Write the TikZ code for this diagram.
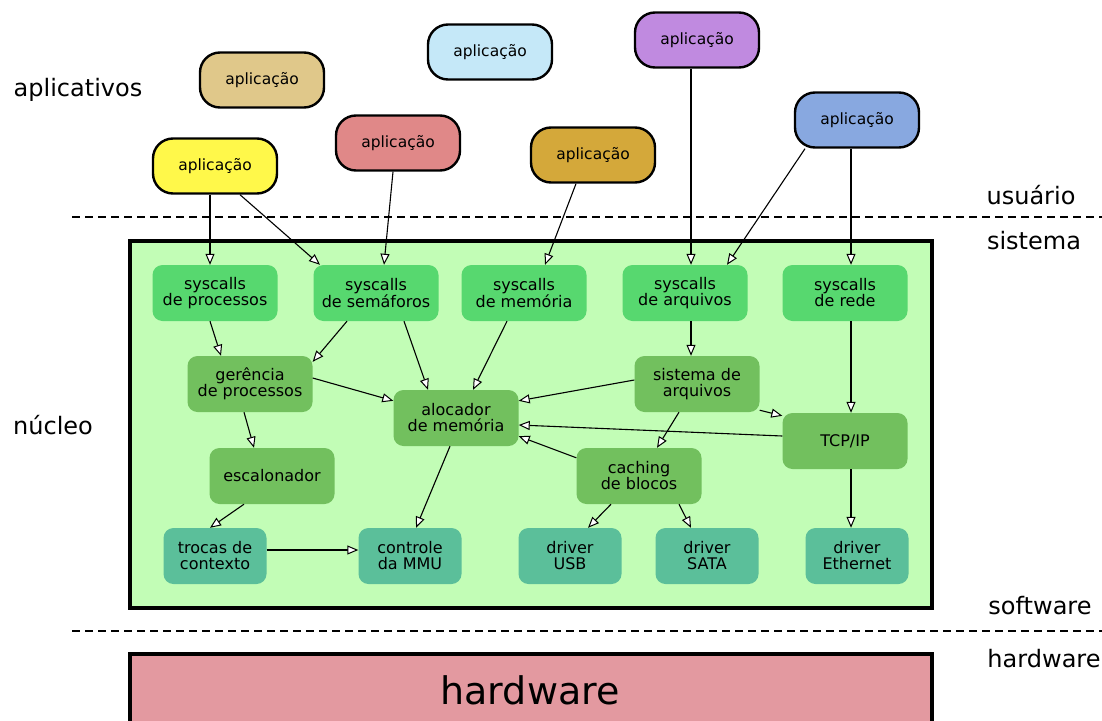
\documentclass[tikz,border=0pt]{standalone}
\usepackage{fontspec}
\setmainfont{DejaVu Sans}
\usetikzlibrary{arrows.meta}

\definecolor{nucleoFundo}{HTML}{C2FDB6}
\definecolor{hwFundo}{HTML}{E399A0}
\definecolor{sysVerde}{HTML}{57D86F}
\definecolor{modVerde}{HTML}{72C05E}
\definecolor{drvVerde}{HTML}{5BBF9A}
\definecolor{appAmarelo}{HTML}{FFF84A}
\definecolor{appBege}{HTML}{E0C88A}
\definecolor{appRosa}{HTML}{E08888}
\definecolor{appCeleste}{HTML}{C5E8F8}
\definecolor{appOuro}{HTML}{D4A83A}
\definecolor{appLilas}{HTML}{C08AE0}
\definecolor{appAzul}{HTML}{88A8E0}

\begin{document}
\begin{tikzpicture}[x=1pt,y=-1pt,
		app/.style={draw=black,line width=2.4pt,rounded corners=20pt,minimum width=124pt,minimum height=55pt,inner sep=0pt,font=\fontsize{15.5}{15.5}\selectfont},
		modulo/.style={rounded corners=10pt,minimum width=125pt,minimum height=56pt,inner sep=0pt,align=center,font=\fontsize{16}{16}\selectfont},
		driver/.style={modulo,fill=drvVerde,minimum width=103pt},
		camada/.style={font=\fontsize{24}{24}\selectfont},
		seta/.style={line width=1.1pt,-{Triangle[length=11pt,width=9pt,fill=white,line width=1pt]}},
		divisa/.style={line width=1.8pt,dash pattern=on 8pt off 5pt}]
	\useasboundingbox (0,0) rectangle (1102,720);

	% camadas
	\node[camada] (aplicativos) at (78,90) {aplicativos};
	\node[camada] (usuario) at (1031,195) {usuário};
	\node[camada] (sistema) at (1034,241) {sistema};
	\node[camada] (nucleo) at (53,425) {núcleo};
	\node[camada] (software) at (1040,606) {software};
	\node[camada] (hwrotulo) at (1044,659) {hardware};
	\draw[divisa] (72,217) -- (1102,217);
	\draw[divisa] (72,631) -- (1102,631);

	% nucleo e hardware
	\draw[line width=4pt,fill=nucleoFundo] (130,241) rectangle (932,608);
	\fill[hwFundo] (130,654) rectangle (932,722);
	\draw[line width=4pt] (130,724) |- (932,654) -- (932,724);
	\node[font=\fontsize{38}{38}\selectfont] (hardware) at (530,690) {hardware};

	% aplicacoes
	\node[app,fill=appAmarelo] (apAmarela) at (215,166) {aplicação};
	\node[app,fill=appBege] (apBege) at (262,80) {aplicação};
	\node[app,fill=appRosa] (apRosa) at (398,143) {aplicação};
	\node[app,fill=appCeleste] (apCeleste) at (490,52) {aplicação};
	\node[app,fill=appOuro] (apOuro) at (593,155) {aplicação};
	\node[app,fill=appLilas] (apLilas) at (697,40) {aplicação};
	\node[app,fill=appAzul] (apAzul) at (857,120) {aplicação};

	% syscalls
	\node[modulo,fill=sysVerde] (scProc) at (215,293) {syscalls\\de processos};
	\node[modulo,fill=sysVerde] (scSem) at (376,293) {syscalls\\de semáforos};
	\node[modulo,fill=sysVerde] (scMem) at (524,293) {syscalls\\de memória};
	\node[modulo,fill=sysVerde] (scArq) at (685,293) {syscalls\\de arquivos};
	\node[modulo,fill=sysVerde] (scRede) at (845,293) {syscalls\\de rede};

	% subsistemas
	\node[modulo,fill=modVerde] (gerencia) at (250,384) {gerência\\de processos};
	\node[modulo,fill=modVerde] (alocador) at (456,418) {alocador\\de memória};
	\node[modulo,fill=modVerde] (sisArq) at (697,384) {sistema de\\arquivos};
	\node[modulo,fill=modVerde] (tcpip) at (845,441) {TCP/IP};
	\node[modulo,fill=modVerde] (escalonador) at (272,476) {escalonador};
	\node[modulo,fill=modVerde] (caching) at (639,476) {caching\\de blocos};

	% drivers
	\node[driver] (trocas) at (215,556) {trocas de\\contexto};
	\node[driver] (mmu) at (410,556) {controle\\da MMU};
	\node[driver] (usb) at (570,556) {driver\\USB};
	\node[driver] (sata) at (707,556) {driver\\SATA};
	\node[driver] (ether) at (857,556) {driver\\Ethernet};

	% chamadas
	\draw[seta] ([xshift=-5pt]apAmarela.south) -- ([xshift=-5pt]scProc.north);
	\draw[seta] ([xshift=25pt]apAmarela.south) -- ([xshift=-56pt]scSem.north);
	\draw[seta] ([xshift=-5pt]apRosa.south) -- ([xshift=8pt]scSem.north);
	\draw[seta] ([xshift=-17pt]apOuro.south) -- ([xshift=21pt]scMem.north);
	\draw[seta] ([xshift=-6pt]apLilas.south) -- ([xshift=6pt]scArq.north);
	\draw[seta] ([xshift=-52pt]apAzul.south) -- ([xshift=42pt]scArq.north);
	\draw[seta] ([xshift=-6pt]apAzul.south) -- ([xshift=6pt]scRede.north);

	% dependencias internas
	\draw[seta] ([xshift=-5pt]scProc.south) -- ([xshift=-29pt]gerencia.north);
	\draw[seta] ([xshift=-29pt]scSem.south) -- ([yshift=-6pt]gerencia.north east);
	\draw[seta] ([xshift=28pt]scSem.south) -- ([xshift=-28pt]alocador.north);
	\draw[seta] ([xshift=-17pt]scMem.south) -- ([xshift=17pt]alocador.north);
	\draw[seta] ([xshift=6pt]scArq.south) -- ([xshift=-6pt]sisArq.north);
	\draw[seta] ([xshift=6pt]scRede.south) -- ([xshift=6pt]tcpip.north);
	\draw[seta] ([yshift=6pt]gerencia.east) -- ([yshift=-11pt]alocador.north west);
	\draw[seta] ([yshift=4pt]sisArq.west) -- ([yshift=-11pt]alocador.north east);
	\draw[seta] ([yshift=2pt]sisArq.south east) -- ([yshift=-3pt]tcpip.north west);
	\draw[seta] ([xshift=-18pt]sisArq.south) -- ([xshift=18pt]caching.north);
	\draw[seta] ([yshift=5pt]tcpip.west) -- ([yshift=-7pt]alocador.east);
	\draw[seta] ([yshift=-10pt]caching.north west) -- ([yshift=10pt]alocador.south east);
	\draw[seta] ([xshift=-6pt]gerencia.south) -- ([xshift=-18pt]escalonador.north);
	\draw[seta] ([xshift=-28pt]escalonador.south) -- ([xshift=-5pt]trocas.north);
	\draw[seta] ([xshift=-6pt]alocador.south) -- ([xshift=6pt]mmu.north);
	\draw[seta] ([yshift=6pt]trocas.east) -- ([yshift=6pt]mmu.west);
	\draw[seta] ([xshift=-28pt]caching.south) -- ([xshift=18pt]usb.north);
	\draw[seta] ([xshift=40pt]caching.south) -- ([xshift=-16pt]sata.north);
	\draw[seta] ([xshift=6pt]tcpip.south) -- ([xshift=-6pt]ether.north);
\end{tikzpicture}
\end{document}
